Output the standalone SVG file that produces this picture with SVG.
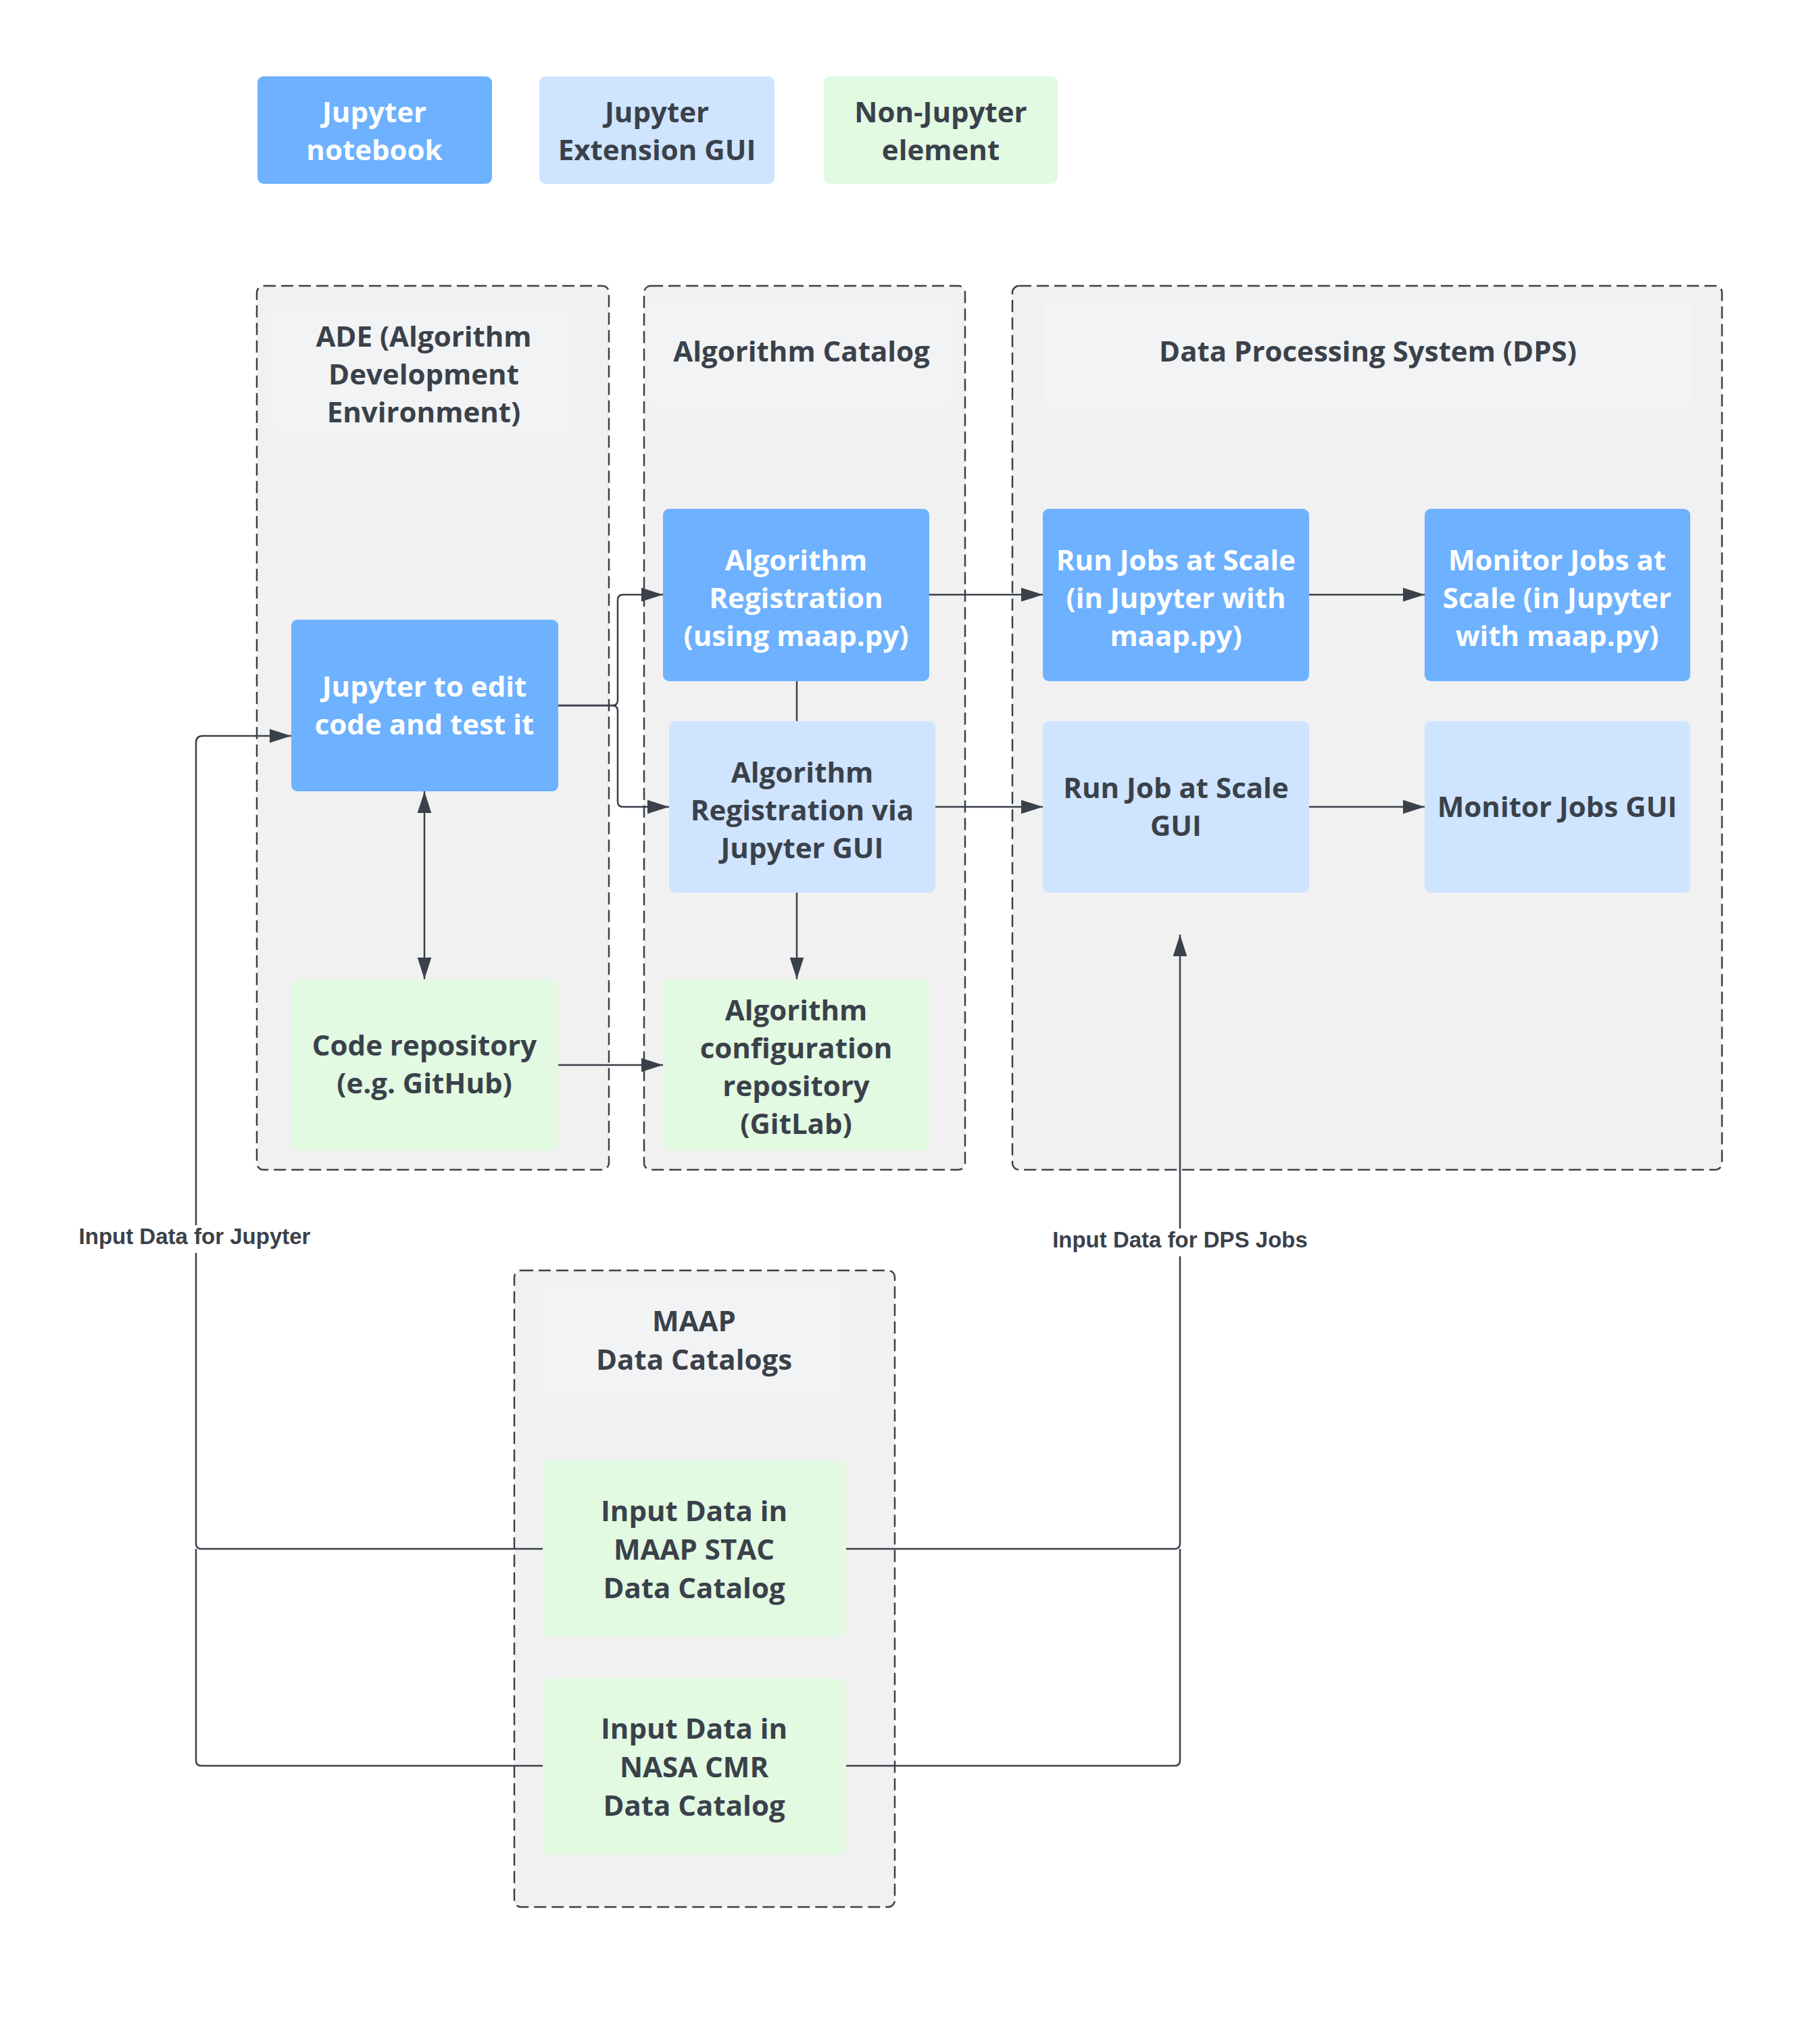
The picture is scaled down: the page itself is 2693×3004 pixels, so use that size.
<svg xmlns="http://www.w3.org/2000/svg" width="2693" height="3004" viewBox="0 0 2693 3004">
<style>
.container{fill:#f1f1f1;stroke:#3a414a;stroke-width:2.5;stroke-dasharray:18 8}
.titlebox{fill:#f2f3f4}
.nb{fill:#6db1ff}
.gui{fill:#cfe4ff}
.ext{fill:#e2f9e2}
.t{font-family:"Open Sans","Noto Sans",sans-serif;font-weight:700;font-size:42px;text-anchor:middle;fill:#3a414a}
.tw{fill:#ffffff}
.lbl{font-family:"Liberation Sans",Arial,sans-serif;font-weight:700;font-size:33px;text-anchor:middle;fill:#3a414a}
.c{fill:none;stroke:#3a414a;stroke-width:2.5}
.ca{marker-end:url(#arr)}
</style>
<defs>
<marker id="arr" markerUnits="userSpaceOnUse" markerWidth="32" markerHeight="22" viewBox="0 0 31 20" refX="31" refY="10" orient="auto-start-reverse">
<path d="M0,0 L31,10 L0,20 z" fill="#3a414a"/>
</marker>
</defs>
<rect width="2693" height="3004" fill="#ffffff"/>

<g id="legend-notebook"><rect class="nb" x="381" y="113" width="347" height="159" rx="9"/><text class="t tw" x="554" y="181">Jupyter</text><text class="t tw" x="554" y="237">notebook</text></g>
<g id="legend-gui"><rect class="gui" x="798" y="113" width="348" height="159" rx="9"/><text class="t" x="972" y="181">Jupyter</text><text class="t" x="972" y="237">Extension GUI</text></g>
<g id="legend-nonjupyter"><rect class="ext" x="1219" y="113" width="346" height="159" rx="9"/><text class="t" x="1392" y="181">Non-Jupyter</text><text class="t" x="1392" y="237">element</text></g>

<g id="ade"><rect class="container" x="380" y="423" width="521" height="1308" rx="10"/><rect class="titlebox" x="402" y="451" width="449" height="191" rx="10"/><text class="t" x="627" y="513">ADE (Algorithm</text><text class="t" x="627" y="569">Development</text><text class="t" x="627" y="625">Environment)</text></g>
<g id="algorithm-catalog"><rect class="container" x="953" y="423" width="475" height="1308" rx="10"/><rect class="titlebox" x="958" y="440" width="454" height="164" rx="10"/><text class="t" x="1186" y="535">Algorithm Catalog</text></g>
<g id="dps"><rect class="container" x="1498" y="423" width="1050" height="1308" rx="10"/><rect class="titlebox" x="1543" y="440" width="961" height="164" rx="10"/><text class="t" x="2024" y="535">Data Processing System (DPS)</text></g>
<g id="maap"><rect class="container" x="761" y="1880" width="563" height="942" rx="10"/><rect class="titlebox" x="804" y="1898" width="442" height="169" rx="10"/><text class="t" x="1027" y="1970">MAAP</text><text class="t" x="1027" y="2027">Data Catalogs</text></g>

<g id="connectors">
<path class="c" d="M803,2292 H298 Q290,2292 290,2284 V1854"/>
<path class="c ca" d="M290,1813 V1099 Q290,1089 300,1089 H431"/>
<path class="c" d="M803,2613 H298 Q290,2613 290,2605 V2292"/>
<path class="c" d="M1252,2292 H1738 Q1746,2292 1746,2284 V1859"/>
<path class="c ca" d="M1746,1818 V1383"/>
<path class="c" d="M1252,2613 H1738 Q1746,2613 1746,2605 V2292"/>
<path class="c ca" d="M826,1044 H906 Q914,1044 914,1036 V888 Q914,880 922,880 H981"/>
<path class="c ca" d="M826,1044 H906 Q914,1044 914,1052 V1186 Q914,1194 922,1194 H990"/>
<path class="c ca" d="M1375,880 H1543"/>
<path class="c ca" d="M1937,880 H2108"/>
<path class="c ca" d="M1384,1194 H1543"/>
<path class="c ca" d="M1937,1194 H2108"/>
<path class="c" d="M1179,1008 V1067"/>
<path class="c ca" d="M1179,1321 V1449"/>
<path class="c ca" d="M628,1171 V1449" marker-start="url(#arr)"/>
<path class="c ca" d="M826,1576 H981"/>
<text class="lbl" x="288" y="1841">Input Data for Jupyter</text>
<text class="lbl" x="1746" y="1846">Input Data for DPS Jobs</text>
</g>

<g id="jupyter-edit"><rect class="nb" x="431" y="917" width="395" height="254" rx="9"/><text class="t tw" x="628" y="1031">Jupyter to edit</text><text class="t tw" x="628" y="1087">code and test it</text></g>
<g id="alg-registration"><rect class="nb" x="981" y="753" width="394" height="255" rx="9"/><text class="t tw" x="1178" y="844">Algorithm</text><text class="t tw" x="1178" y="900">Registration</text><text class="t tw" x="1178" y="956">(using maap.py)</text></g>
<g id="alg-registration-gui"><rect class="gui" x="990" y="1067" width="394" height="254" rx="9"/><text class="t" x="1187" y="1158">Algorithm</text><text class="t" x="1187" y="1214">Registration via</text><text class="t" x="1187" y="1270">Jupyter GUI</text></g>
<g id="code-repo"><rect class="ext" x="431" y="1449" width="395" height="254" rx="9"/><text class="t" x="628" y="1562">Code repository</text><text class="t" x="628" y="1618">(e.g. GitHub)</text></g>
<g id="alg-config-repo"><rect class="ext" x="981" y="1449" width="394" height="254" rx="9"/><text class="t" x="1178" y="1510">Algorithm</text><text class="t" x="1178" y="1566">configuration</text><text class="t" x="1178" y="1622">repository</text><text class="t" x="1178" y="1678">(GitLab)</text></g>
<g id="run-jobs"><rect class="nb" x="1543" y="753" width="394" height="255" rx="9"/><text class="t tw" x="1740" y="844">Run Jobs at Scale</text><text class="t tw" x="1740" y="900">(in Jupyter with</text><text class="t tw" x="1740" y="956">maap.py)</text></g>
<g id="monitor-jobs"><rect class="nb" x="2108" y="753" width="393" height="255" rx="9"/><text class="t tw" x="2304" y="844">Monitor Jobs at</text><text class="t tw" x="2304" y="900">Scale (in Jupyter</text><text class="t tw" x="2304" y="956">with maap.py)</text></g>
<g id="run-job-gui"><rect class="gui" x="1543" y="1067" width="394" height="254" rx="9"/><text class="t" x="1740" y="1181">Run Job at Scale</text><text class="t" x="1740" y="1237">GUI</text></g>
<g id="monitor-jobs-gui"><rect class="gui" x="2108" y="1067" width="393" height="254" rx="9"/><text class="t" x="2304" y="1209">Monitor Jobs GUI</text></g>
<g id="maap-stac"><rect class="ext" x="803" y="2161" width="449" height="261" rx="9"/><text class="t" x="1027" y="2251">Input Data in</text><text class="t" x="1027" y="2308">MAAP STAC</text><text class="t" x="1027" y="2365">Data Catalog</text></g>
<g id="nasa-cmr"><rect class="ext" x="803" y="2484" width="449" height="261" rx="9"/><text class="t" x="1027" y="2573">Input Data in</text><text class="t" x="1027" y="2630">NASA CMR</text><text class="t" x="1027" y="2687">Data Catalog</text></g>
</svg>
